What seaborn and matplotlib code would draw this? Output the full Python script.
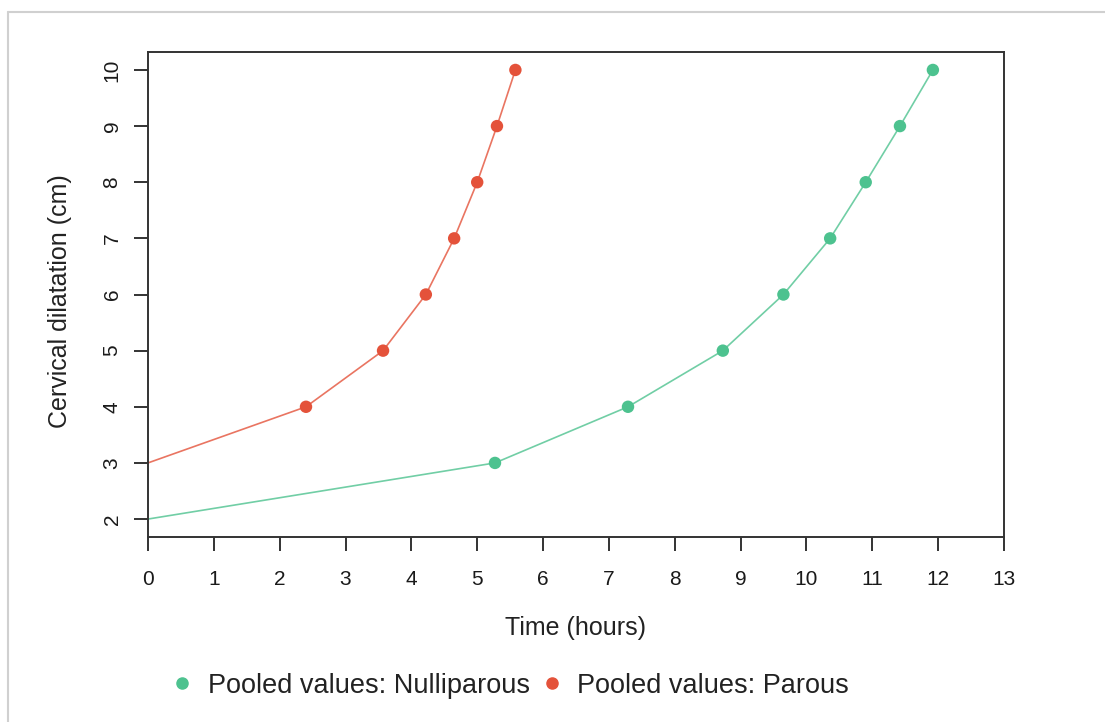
import numpy as np
import pandas as pd
import matplotlib
matplotlib.use("Agg")
import matplotlib.pyplot as plt
from matplotlib.lines import Line2D
import seaborn as sns

# data (time in hours for each cm of dilatation)
dilatation_nulli = [2, 3, 4, 5, 6, 7, 8, 9, 10]
time_nulli = [0, 5.27, 7.29, 8.73, 9.65, 10.36, 10.90, 11.42, 11.92]
dilatation_parous = [3, 4, 5, 6, 7, 8, 9, 10]
time_parous = [0, 2.40, 3.57, 4.22, 4.65, 5.00, 5.30, 5.58]

labels = ["Pooled values: Nulliparous", "Pooled values: Parous"]
colors = {labels[0]: "#4dc28f", labels[1]: "#e4523a"}

df = pd.concat([
    pd.DataFrame({"time": time_nulli, "cm": dilatation_nulli, "group": labels[0]}),
    pd.DataFrame({"time": time_parous, "cm": dilatation_parous, "group": labels[1]}),
], ignore_index=True)
pts = df[df["time"] > 0]

sns.set_style("white")
plt.rcParams["font.family"] = ["Liberation Sans", "DejaVu Sans"]

fig = plt.figure(figsize=(11.05, 7.22), dpi=100)
ax = fig.add_axes([0.1339, 0.2562, 0.7747, 0.6718])

sns.lineplot(data=df, x="time", y="cm", hue="group", palette=colors,
             lw=1.2, alpha=0.8, sort=False, estimator=None, legend=False, ax=ax)
sns.scatterplot(data=pts, x="time", y="cm", hue="group", palette=colors,
                s=80, edgecolor="none", legend=False, ax=ax, zorder=3)

ax.set_xlim(0, 13)
ax.set_ylim(1.68, 10.32)
ax.set_xticks(range(0, 14))
ax.set_yticks(range(2, 11))
ax.tick_params(axis="both", direction="out", length=10, width=1.4, color="#333333",
               labelsize=15, labelcolor="#1a1a1a", left=True, bottom=True)
ax.tick_params(axis="x", pad=14)
ax.tick_params(axis="y", pad=9)
for lab in ax.get_yticklabels():
    lab.set_rotation(90)
    lab.set_va("center")
for sp in ax.spines.values():
    sp.set_visible(True)
    sp.set_linewidth(1.4)
    sp.set_color("#333333")

ax.set_xlabel("Time (hours)", fontsize=18, color="#222222", va="center")
ax.set_ylabel("Cervical dilatation (cm)", fontsize=18, color="#222222", va="center")
ax.xaxis.set_label_coords(0.499, -0.188)
ax.yaxis.set_label_coords(-0.103, 0.487)

handles = [Line2D([], [], marker="o", ls="", color=colors[l], markersize=8) for l in labels]
fig.legend(handles, labels, loc="center", bbox_to_anchor=(0.4605, 0.05), ncol=2,
           frameon=False, fontsize=19.5, handlelength=1.0, handletextpad=0.45,
           columnspacing=0.3, labelcolor="#222222")

# light outer frame (top and left edges visible)
fig.add_artist(Line2D([8 / 1105, 1], [1 - 12 / 722, 1 - 12 / 722], transform=fig.transFigure,
                      color="#d0d0d0", lw=1.5))
fig.add_artist(Line2D([8 / 1105, 8 / 1105], [0, 1 - 12 / 722], transform=fig.transFigure,
                      color="#d0d0d0", lw=1.5))

fig.savefig("out.png", dpi=100)
